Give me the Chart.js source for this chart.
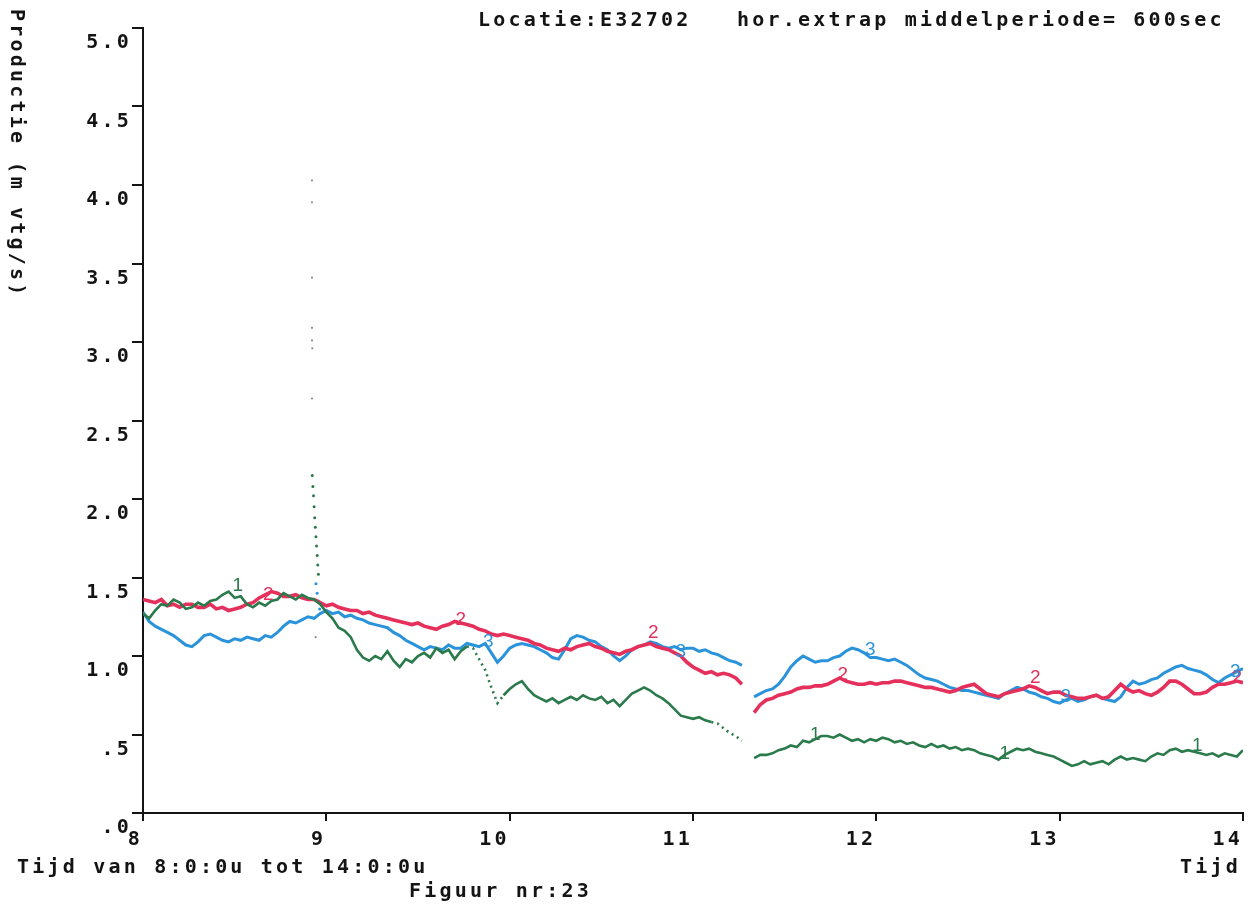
<!DOCTYPE html>
<html>
<head>
<meta charset="utf-8">
<script src="https://cdn.jsdelivr.net/npm/chart.js@4.4.1/dist/chart.umd.min.js"></script>
<style>
  html, body { margin: 0; padding: 0; background: #ffffff; }
  #wrap { width: 1260px; height: 904px; }
</style>
</head>
<body>
<div id="wrap"><canvas id="c" width="1260" height="904"></canvas></div>
<script>
// Time in minutes after 8:00 (2-minute samples); 198 falls in the recording gap.
const minutes = [0,2,4,6,8,10,12,14,16,18,20,22,24,26,28,30,32,34,36,38,40,42,44,46,48,50,52,54,56,58,60,62,64,66,68,70,72,74,76,78,80,82,84,86,88,90,92,94,96,98,100,102,104,106,108,110,112,114,116,118,120,122,124,126,128,130,132,134,136,138,140,142,144,146,148,150,152,154,156,158,160,162,164,166,168,170,172,174,176,178,180,182,184,186,188,190,192,194,196,198,200,202,204,206,208,210,212,214,216,218,220,222,224,226,228,230,232,234,236,238,240,242,244,246,248,250,252,254,256,258,260,262,264,266,268,270,272,274,276,278,280,282,284,286,288,290,292,294,296,298,300,302,304,306,308,310,312,314,316,318,320,322,324,326,328,330,332,334,336,338,340,342,344,346,348,350,352,354,356,358,360];

// Productie (m vtg/s), meetpunt 1
const productie1 = [
  1.27,1.24,1.29,1.33,1.32,1.36,1.34,1.30,1.31,1.34,1.32,1.35,1.36,1.39,1.41,1.37,1.38,1.33,1.31,1.34,
  1.32,1.35,1.36,1.40,1.38,1.36,1.39,1.37,1.36,1.33,1.28,1.24,1.18,1.16,1.12,1.04,0.99,0.97,1.00,0.98,
  1.03,0.97,0.93,0.98,0.96,1.00,1.02,0.99,1.05,1.02,1.04,0.98,1.03,1.06,1.05,0.98,0.91,0.80,0.70,0.75,
  0.79,0.82,0.84,0.79,0.75,0.73,0.71,0.73,0.70,0.72,0.74,0.72,0.75,0.73,0.72,0.74,0.70,0.72,0.68,0.72,
  0.76,0.78,0.80,0.78,0.75,0.73,0.70,0.66,0.62,0.61,0.60,0.61,0.59,0.58,0.57,0.54,0.51,0.49,0.46,
  null,
  0.35,0.37,0.37,0.38,0.40,0.41,0.43,0.42,0.46,0.45,0.47,0.49,0.49,0.48,0.50,0.48,0.46,0.47,0.45,0.47,
  0.46,0.48,0.47,0.45,0.46,0.44,0.45,0.43,0.42,0.44,0.42,0.43,0.41,0.42,0.40,0.41,0.40,0.38,0.37,0.36,
  0.34,0.37,0.39,0.41,0.40,0.41,0.39,0.38,0.37,0.36,0.34,0.32,0.30,0.31,0.33,0.31,0.32,0.33,0.31,0.34,
  0.36,0.34,0.35,0.34,0.33,0.36,0.38,0.37,0.40,0.41,0.39,0.40,0.39,0.38,0.37,0.38,0.36,0.38,0.37,0.36,
  0.40
];

// Productie (m vtg/s), meetpunt 2
const productie2 = [
  1.36,1.35,1.34,1.36,1.32,1.33,1.31,1.33,1.33,1.31,1.31,1.33,1.30,1.31,1.29,1.30,1.31,1.33,1.34,1.37,
  1.39,1.41,1.40,1.38,1.38,1.39,1.37,1.36,1.36,1.34,1.32,1.33,1.31,1.30,1.29,1.29,1.27,1.28,1.26,1.25,
  1.24,1.23,1.22,1.21,1.20,1.21,1.19,1.18,1.17,1.19,1.20,1.22,1.21,1.20,1.19,1.17,1.16,1.14,1.13,1.14,
  1.13,1.12,1.11,1.10,1.08,1.07,1.05,1.04,1.03,1.05,1.04,1.06,1.07,1.08,1.06,1.05,1.03,1.02,1.01,1.03,
  1.04,1.06,1.07,1.08,1.06,1.05,1.04,1.02,1.00,0.96,0.93,0.91,0.89,0.90,0.88,0.89,0.88,0.86,0.82,
  null,
  0.64,0.69,0.72,0.73,0.75,0.76,0.77,0.79,0.80,0.80,0.81,0.81,0.82,0.84,0.86,0.84,0.83,0.82,0.82,0.83,
  0.82,0.83,0.83,0.84,0.84,0.83,0.82,0.81,0.80,0.80,0.79,0.78,0.77,0.78,0.80,0.81,0.82,0.79,0.76,0.75,
  0.74,0.76,0.77,0.78,0.79,0.81,0.80,0.78,0.76,0.77,0.77,0.75,0.74,0.73,0.73,0.74,0.75,0.73,0.74,0.78,
  0.82,0.79,0.77,0.78,0.76,0.75,0.77,0.80,0.84,0.84,0.82,0.79,0.76,0.76,0.77,0.80,0.82,0.82,0.83,0.84,
  0.83
];

// Productie (m vtg/s), meetpunt 3
const productie3 = [
  1.28,1.22,1.19,1.17,1.15,1.13,1.10,1.07,1.06,1.09,1.13,1.14,1.12,1.10,1.09,1.11,1.10,1.12,1.11,1.10,
  1.13,1.12,1.15,1.19,1.22,1.21,1.23,1.25,1.24,1.27,1.29,1.27,1.28,1.25,1.26,1.24,1.23,1.21,1.20,1.19,
  1.18,1.15,1.13,1.10,1.08,1.06,1.04,1.06,1.05,1.04,1.07,1.05,1.05,1.08,1.07,1.06,1.08,1.02,0.96,1.00,
  1.05,1.07,1.08,1.07,1.06,1.04,1.02,0.99,0.98,1.04,1.11,1.13,1.12,1.10,1.09,1.06,1.04,1.00,0.97,1.00,
  1.04,1.06,1.07,1.09,1.08,1.06,1.05,1.06,1.04,1.05,1.05,1.03,1.04,1.02,1.01,0.99,0.97,0.96,0.94,
  null,
  0.74,0.76,0.78,0.79,0.82,0.87,0.93,0.97,1.00,0.98,0.96,0.97,0.97,0.99,1.00,1.03,1.05,1.04,1.02,0.99,
  0.99,0.98,0.97,0.98,0.96,0.94,0.91,0.88,0.86,0.85,0.84,0.82,0.80,0.79,0.78,0.78,0.77,0.76,0.75,0.74,
  0.73,0.76,0.78,0.80,0.79,0.77,0.76,0.74,0.73,0.71,0.70,0.72,0.73,0.71,0.72,0.74,0.75,0.73,0.72,0.71,
  0.74,0.80,0.84,0.82,0.83,0.85,0.86,0.89,0.91,0.93,0.94,0.92,0.91,0.90,0.88,0.85,0.83,0.86,0.88,0.90,
  0.92
];

// Short burst just before 9:00
const piekMinutes1 = [55.4,55.6,55.8,56.0,56.2,56.4,56.6,56.8,57.0,57.2,57.4];
const piekValues1  = [2.15,2.08,2.02,1.95,1.88,1.82,1.76,1.70,1.64,1.58,1.52];
const piekMinutes3 = [56.6,57.0,57.4,57.8];
const piekValues3  = [1.46,1.40,1.35,1.30];
const losseMinutes = [55.3,55.3,55.3,55.3,55.3,55.4,55.3,56.5];
const losseValues  = [4.03,3.89,3.41,3.09,3.01,2.96,2.64,1.12];

// Series numbers written along the curves
const merk1Minutes = [31,220,282,345];
const merk1Values  = [1.45,0.50,0.38,0.43];
const merk2Minutes = [41,104,167,229,292,358];
const merk2Values  = [1.39,1.23,1.15,0.88,0.86,0.86];
const merk3Minutes = [113,176,238,302,357.5];
const merk3Values  = [1.09,1.03,1.04,0.74,0.90];

const hourLabels = ['8','9','10','11','12','13','14'];
const yTickLabels = ['.0','.5','1.0','1.5','2.0','2.5','3.0','3.5','4.0','4.5','5.0'];

const titleText = 'Locatie:E32702   hor.extrap middelperiode= 600sec';
const yTitleText = 'Productie (m vtg/s)';
const rangeText = 'Tijd van 8:0:0u tot 14:0:0u';
const figText = 'Figuur nr:23';
const xNameText = 'Tijd';

const MONO = "'DejaVu Sans Mono', 'Liberation Mono', monospace";
const SPACING = '3.2px';
const INK = '#141414';
const GREEN = '#2b7a4b';
const RED = '#e5305c';
const BLUE = '#2a93d9';
const GREY = '#8d8d8d';
const dottedRanges = [[106, 118], [186, 198]];

function points(xs, ys) {
  return xs.map((m, i) => ({ x: m, y: ys[i] }));
}

const textPlugin = {
  id: 'plotText',
  beforeDraw(chart) {
    chart.ctx.letterSpacing = SPACING;
  },
  afterDatasetsDraw(chart) {
    const ctx = chart.ctx;
    const xs = chart.scales.x, ys = chart.scales.y;
    ctx.save();
    ctx.letterSpacing = '0px';
    ctx.font = "19px 'Liberation Sans', 'DejaVu Sans', sans-serif";
    ctx.textAlign = 'center';
    ctx.textBaseline = 'middle';
    const sets = [['1', merk1Minutes, merk1Values, GREEN], ['2', merk2Minutes, merk2Values, RED], ['3', merk3Minutes, merk3Values, BLUE]];
    sets.forEach(([t, ms, vs, col]) => {
      ctx.fillStyle = col;
      ms.forEach((m, i) => ctx.fillText(t, xs.getPixelForValue(m), ys.getPixelForValue(vs[i])));
    });
    ctx.restore();
  },
  afterDraw(chart) {
    const ctx = chart.ctx;
    ctx.save();
    ctx.letterSpacing = SPACING;
    ctx.font = 'bold 20px ' + MONO;
    ctx.fillStyle = INK;
    ctx.textAlign = 'left';
    ctx.textBaseline = 'alphabetic';
    ctx.fillText(titleText, 478, 26);
    ctx.fillText(rangeText, 17, 873);
    ctx.fillText(figText, 409, 897);
    ctx.fillText(xNameText, 1180, 873);
    ctx.translate(11, 9);
    ctx.rotate(Math.PI / 2);
    ctx.fillText(yTitleText, 0, 0);
    ctx.restore();
    ctx.letterSpacing = '0px';
  }
};

const tickFont = { family: MONO, size: 20, weight: 'bold' };

new Chart(document.getElementById('c'), {
  type: 'line',
  data: {
    datasets: [
      {
        label: '1', data: points(minutes, productie1), borderColor: GREEN, borderWidth: 2.6,
        pointRadius: 0, spanGaps: false, tension: 0,
        segment: {
          borderDash: c => dottedRanges.some(r => c.p0.parsed.x >= r[0] && c.p1.parsed.x <= r[1]) ? [2, 4] : undefined
        }
      },
      { label: '2', data: points(minutes, productie2), borderColor: RED, borderWidth: 3.6, pointRadius: 0, spanGaps: false, tension: 0 },
      { label: '3', data: points(minutes, productie3), borderColor: BLUE, borderWidth: 3, pointRadius: 0, spanGaps: false, tension: 0 },
      { type: 'scatter', label: 'piek 1', data: points(piekMinutes1, piekValues1), pointRadius: 1.5, backgroundColor: GREEN, borderWidth: 0 },
      { type: 'scatter', label: 'piek 3', data: points(piekMinutes3, piekValues3), pointRadius: 1.5, backgroundColor: BLUE, borderWidth: 0 },
      { type: 'scatter', label: 'los', data: points(losseMinutes, losseValues), pointRadius: 1.1, backgroundColor: GREY, borderWidth: 0 }
    ]
  },
  options: {
    responsive: false,
    animation: false,
    events: [],
    layout: { padding: { left: 0, top: 28, right: 17, bottom: 31 } },
    plugins: { legend: { display: false }, tooltip: { enabled: false }, title: { display: false } },
    scales: {
      x: {
        type: 'linear', min: 0, max: 360,
        afterFit(s) { s.height = 60; },
        border: { display: true, color: INK, width: 2 },
        grid: { drawOnChartArea: false, drawTicks: true, tickLength: 8, color: INK, lineWidth: 2 },
        ticks: {
          stepSize: 60, autoSkip: false, maxRotation: 0, align: 'end', padding: 7,
          color: INK, font: tickFont,
          callback: v => hourLabels[Math.round(v / 60)]
        }
      },
      y: {
        type: 'linear', min: 0, max: 5,
        afterFit(s) { s.width = 143; },
        border: { display: true, color: INK, width: 2 },
        grid: { drawOnChartArea: false, drawTicks: true, tickLength: 11, color: INK, lineWidth: 2 },
        ticks: {
          stepSize: 0.5, autoSkip: false, padding: 0, labelOffset: 15,
          color: INK, font: tickFont,
          callback: v => yTickLabels[Math.round(v * 2)]
        }
      }
    }
  },
  plugins: [textPlugin]
});
</script>
</body>
</html>
